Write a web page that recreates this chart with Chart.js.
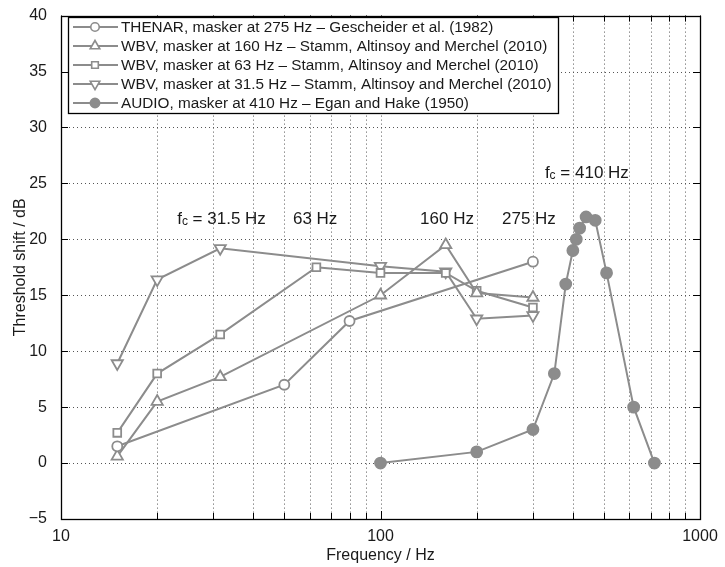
<!DOCTYPE html>
<html>
<head>
<meta charset="utf-8">
<script src="https://cdn.jsdelivr.net/npm/chart.js@4.4.0/dist/chart.umd.min.js"></script>
<style>
  html, body { margin: 0; padding: 0; background: #fff; }
  #wrap { width: 725px; height: 567px; }
</style>
</head>
<body>
<div id="wrap"><canvas id="masking" width="725" height="567"></canvas></div>
<script>
// Threshold shift vs. frequency for several maskers
const thenarFreq = [15, 50, 80, 300];
const thenarShift = [1.5, 7, 12.7, 18];

const wbv160Freq = [15, 20, 31.5, 100, 160, 200, 300];
const wbv160Shift = [0.6, 5.5, 7.7, 15, 19.5, 15.2, 14.8];

const wbv63Freq = [15, 20, 31.5, 63, 100, 160, 200, 300];
const wbv63Shift = [2.7, 8, 11.5, 17.5, 17, 17, 15.4, 13.9];

const wbv31Freq = [15, 20, 31.5, 100, 160, 200, 300];
const wbv31Shift = [8.9, 16.4, 19.2, 17.6, 17.1, 12.9, 13.2];

const audioFreq = [100, 200, 300, 350, 380, 400, 410, 420, 440, 470, 510, 620, 720];
const audioShift = [0, 1, 3, 8, 16, 19, 20, 21, 22, 21.7, 17, 5, 0];

const seriesLabels = [
  'THENAR, masker at 275 Hz \u2013 Gescheider et al. (1982)',
  'WBV, masker at 160 Hz \u2013 Stamm, Altinsoy and Merchel (2010)',
  'WBV, masker at 63 Hz \u2013 Stamm, Altinsoy and Merchel (2010)',
  'WBV, masker at 31.5 Hz \u2013 Stamm, Altinsoy and Merchel (2010)',
  'AUDIO, masker at 410 Hz \u2013 Egan and Hake (1950)'
];

// masker centre frequency labels: [prefix, value text, freq position, dB position]
const maskerNotes = [
  ['f', ' = 31.5 Hz', 23.1, 21.8],
  ['', '63 Hz', 53.2, 21.8],
  ['', '160 Hz', 133, 21.8],
  ['', '275 Hz', 240, 21.8],
  ['f', ' = 410 Hz', 327, 25.9]
];

const xTicks = [10, 100, 1000];

const GREY = '#8c8c8c';
const FONT = '"Liberation Sans", Arial, Helvetica, sans-serif';

function pts(fs, vs) {
  return fs.map((f, i) => ({ x: f, y: vs[i] }));
}

function series(label, fs, vs, style, extra) {
  return Object.assign({
    label: label,
    data: pts(fs, vs),
    borderColor: GREY,
    borderWidth: 2,
    pointStyle: style,
    pointBorderColor: GREY,
    pointBackgroundColor: '#fff',
    pointBorderWidth: 1.8,
    pointRadius: 5,
    pointHoverRadius: 5,
    tension: 0
  }, extra || {});
}

const datasets = [
  series(seriesLabels[0], thenarFreq, thenarShift, 'circle', { pointRadius: 5 }),
  series(seriesLabels[1], wbv160Freq, wbv160Shift, 'triangle', { pointRadius: 6.5 }),
  series(seriesLabels[2], wbv63Freq, wbv63Shift, 'rect', { pointRadius: 5.5 }),
  series(seriesLabels[3], wbv31Freq, wbv31Shift, 'triangle', { pointRadius: 6.5, pointRotation: 180 }),
  series(seriesLabels[4], audioFreq, audioShift, 'circle', { pointRadius: 5.5, pointBackgroundColor: GREY })
];

// all decade + minor positions on the log axis
const logPositions = [];
for (let d = 10; d < 1000; d *= 10) {
  for (let m = 1; m < 10; m++) logPositions.push(d * m);
}
logPositions.push(1000);

// dotted grid, drawn from the scales underneath the lines
const gridPlugin = {
  id: 'dottedGrid',
  beforeDatasetsDraw(chart) {
    const ctx = chart.ctx;
    const a = chart.chartArea;
    const xs = chart.scales.x, ys = chart.scales.y;
    ctx.save();
    ctx.strokeStyle = '#555';
    ctx.lineWidth = 1;
    ctx.setLineDash([1, 3]);
    ctx.beginPath();
    logPositions.forEach(v => {
      const px = Math.round(xs.getPixelForValue(v)) + 0.5;
      ctx.moveTo(px, a.top); ctx.lineTo(px, a.bottom);
    });
    for (let v = -5; v <= 40; v += 5) {
      const py = Math.round(ys.getPixelForValue(v)) + 0.5;
      ctx.moveTo(a.left, py); ctx.lineTo(a.right, py);
    }
    ctx.stroke();
    ctx.restore();
  }
};

const framePlugin = {
  id: 'frame',
  afterDatasetsDraw(chart) {
    const ctx = chart.ctx;
    const a = chart.chartArea;
    const xs = chart.scales.x, ys = chart.scales.y;
    ctx.save();
    ctx.strokeStyle = '#000';
    ctx.lineWidth = 1;
    ctx.beginPath();
    // inward ticks, bottom and top
    logPositions.forEach(v => {
      const px = Math.round(xs.getPixelForValue(v)) + 0.5;
      const len = xTicks.includes(v) ? 8 : 6;
      ctx.moveTo(px, a.bottom); ctx.lineTo(px, a.bottom - len);
      ctx.moveTo(px, a.top); ctx.lineTo(px, a.top + len);
    });
    // inward ticks, left and right
    for (let v = -5; v <= 40; v += 5) {
      const py = Math.round(ys.getPixelForValue(v)) + 0.5;
      ctx.moveTo(a.left, py); ctx.lineTo(a.left + 7, py);
      ctx.moveTo(a.right, py); ctx.lineTo(a.right - 7, py);
    }
    ctx.stroke();
    ctx.lineWidth = 1.3;
    ctx.strokeRect(Math.round(a.left) + 0.5, Math.round(a.top) + 0.5,
      Math.round(a.right - a.left), Math.round(a.bottom - a.top));

    // masker frequency notes
    ctx.fillStyle = '#1a1a1a';
    ctx.textBaseline = 'middle';
    ctx.textAlign = 'left';
    maskerNotes.forEach(n => {
      let px = xs.getPixelForValue(n[2]);
      const py = ys.getPixelForValue(n[3]);
      if (n[0]) {
        ctx.font = '17px ' + FONT;
        ctx.fillText(n[0], px, py);
        px += ctx.measureText(n[0]).width;
        ctx.font = '12px ' + FONT;
        ctx.fillText('c', px, py + 2);
        px += ctx.measureText('c').width;
      }
      ctx.font = '17px ' + FONT;
      ctx.fillText(n[1], px, py);
    });

    // legend box
    const lx = 68, ly = 17, lw = 490, lh = 96, row = 19;
    ctx.fillStyle = '#fff';
    ctx.fillRect(lx, ly, lw, lh);
    ctx.strokeStyle = '#000';
    ctx.lineWidth = 1.3;
    ctx.strokeRect(lx + 0.5, ly + 0.5, lw, lh);
    chart.data.datasets.forEach((ds, i) => {
      const cy = ly + 10 + i * row;
      ctx.strokeStyle = ds.borderColor;
      ctx.lineWidth = 2;
      ctx.beginPath();
      ctx.moveTo(lx + 5, cy); ctx.lineTo(lx + 50, cy);
      ctx.stroke();
      ctx.fillStyle = ds.pointBackgroundColor;
      ctx.strokeStyle = ds.pointBorderColor;
      ctx.lineWidth = 1.6;
      Chart.helpers.drawPoint(ctx, {
        pointStyle: ds.pointStyle,
        radius: ds.pointRadius * 0.85,
        rotation: ds.pointRotation || 0,
        borderWidth: 1.6
      }, lx + 27, cy);
      ctx.fillStyle = '#1a1a1a';
      ctx.font = '15.3px ' + FONT;
      ctx.textAlign = 'left';
      ctx.textBaseline = 'middle';
      ctx.fillText(ds.label, lx + 53, cy + 1);
    });
    ctx.restore();
  }
};

new Chart(document.getElementById('masking'), {
  type: 'line',
  data: { datasets: datasets },
  options: {
    responsive: false,
    animation: false,
    events: [],
    layout: { padding: { top: 10, right: 25, left: 0, bottom: 0 } },
    plugins: { legend: { display: false }, tooltip: { enabled: false } },
    scales: {
      x: {
        type: 'logarithmic',
        min: 10,
        max: 1000,
        afterBuildTicks(scale) {
          scale.ticks = logPositions.map(v => ({ value: v }));
        },
        afterFit(scale) { scale.height = 48; },
        ticks: {
          autoSkip: false,
          maxRotation: 0,
          padding: 0,
          color: '#1a1a1a',
          font: { family: FONT, size: 16 },
          callback: v => xTicks.includes(v) ? String(v) : ''
        },
        grid: { display: false },
        border: { display: false },
        title: { display: true, text: 'Frequency / Hz', color: '#1a1a1a', font: { family: FONT, size: 16 }, padding: { top: 0, bottom: 2 } }
      },
      y: {
        min: -5,
        max: 40,
        afterFit(scale) { scale.width = 61; },
        ticks: {
          stepSize: 5,
          padding: 6,
          color: '#1a1a1a',
          font: { family: FONT, size: 16 },
          callback: v => String(v).replace('-', '\u2212')
        },
        grid: { display: false },
        border: { display: false },
        title: { display: true, text: 'Threshold shift / dB', color: '#1a1a1a', font: { family: FONT, size: 16 }, padding: { top: 11, bottom: 0 } }
      }
    }
  },
  plugins: [gridPlugin, framePlugin]
});
</script>
</body>
</html>
